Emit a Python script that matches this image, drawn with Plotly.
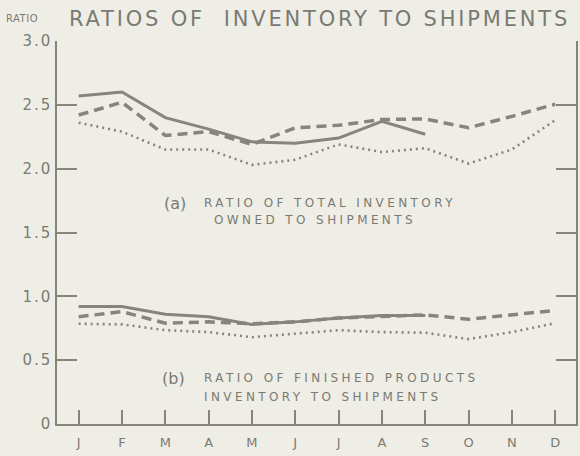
import plotly.graph_objects as go

months = ["J", "F", "M", "A", "M", "J", "J", "A", "S", "O", "N", "D"]
month_idx = list(range(len(months)))

# (a) Ratio of total inventory owned to shipments
a_solid = [2.57, 2.60, 2.40, 2.31, 2.21, 2.20, 2.24, 2.37, 2.27]
a_dashed = [2.42, 2.52, 2.26, 2.29, 2.19, 2.32, 2.34, 2.385, 2.39, 2.32, 2.41, 2.505]
a_dotted = [2.36, 2.29, 2.15, 2.15, 2.03, 2.07, 2.19, 2.13, 2.16, 2.04, 2.15, 2.38]

# (b) Ratio of finished products inventory to shipments
b_solid = [0.92, 0.92, 0.86, 0.84, 0.78, 0.80, 0.83, 0.85, 0.85]
b_dashed = [0.84, 0.88, 0.79, 0.80, 0.785, 0.80, 0.83, 0.845, 0.855, 0.82, 0.855, 0.89]
b_dotted = [0.785, 0.78, 0.735, 0.72, 0.68, 0.71, 0.735, 0.72, 0.715, 0.665, 0.72, 0.79]

y_tickvals = [0, 0.5, 1.0, 1.5, 2.0, 2.5, 3.0]
y_ticktext = ["0", "0.5", "1.0", "1.5", "2.0", "2.5", "3.0"]

BG = "#efeee6"
INK = "#85857d"
TXT = "#7a7a72"
FONT = "DejaVu Sans"

fig = go.Figure()

styles = [
    ("solid", 3.0),
    ("10px,6px", 3.5),
    ("2px,4px", 2.6),
]

for series, (dash, w) in zip([a_solid, a_dashed, a_dotted], styles):
    fig.add_trace(go.Scatter(x=month_idx[:len(series)], y=series, mode="lines",
                             line=dict(color=INK, width=w, dash=dash), showlegend=False))
for series, (dash, w) in zip([b_solid, b_dashed, b_dotted], styles):
    fig.add_trace(go.Scatter(x=month_idx[:len(series)], y=series, mode="lines",
                             line=dict(color=INK, width=w, dash=dash), showlegend=False))

W, H = 580, 456
L, R, T, B = 57, 2, 41, 32
pw = W - L - R
ph = H - T - B

def px(x):
    return (x - L) / pw

def py(y):
    return (H - B - y) / ph

def sp(text, ls):
    return f'<span style="letter-spacing:{ls}px">{text}</span>'

annos = [
    dict(text=sp("RATIOS OF  INVENTORY TO SHIPMENTS", 2.8), x=px(321), y=py(19), size=21,
         xanchor="center"),
    dict(text=sp("RATIO", 0.5), x=px(21.5), y=py(18), size=10, xanchor="center"),
    dict(text="(a)", x=px(162), y=py(203), size=16, xanchor="left"),
    dict(text=sp("RATIO OF TOTAL INVENTORY", 3.4), x=px(203), y=py(203), size=12, xanchor="left"),
    dict(text=sp("OWNED TO SHIPMENTS", 3.4), x=px(213), y=py(220), size=12, xanchor="left"),
    dict(text="(b)", x=px(160), y=py(378), size=16, xanchor="left"),
    dict(text=sp("RATIO OF FINISHED PRODUCTS", 3.4), x=px(203), y=py(378), size=12, xanchor="left"),
    dict(text=sp("INVENTORY TO SHIPMENTS", 3.4), x=px(203), y=py(397), size=12, xanchor="left"),
]
for a in annos:
    fig.add_annotation(text=a["text"], x=a["x"], y=a["y"], xref="paper", yref="paper",
                       xanchor=a["xanchor"], yanchor="middle", showarrow=False,
                       font=dict(family=FONT, size=a["size"], color=TXT))

fig.update_layout(
    width=W, height=H,
    margin=dict(l=L, r=R, t=T, b=B),
    paper_bgcolor=BG, plot_bgcolor=BG,
    showlegend=False,
    xaxis=dict(range=[-0.5, 11.48], tickvals=month_idx, ticktext=months,
               ticks="inside", ticklen=14, tickwidth=2, tickcolor=INK,
               showline=True, linecolor=INK, linewidth=2, showgrid=False, zeroline=False,
               tickfont=dict(family=FONT, size=13, color=TXT), ticklabelstandoff=5),
    yaxis=dict(range=[0, 3], tickvals=y_tickvals,
               ticktext=[sp(t, 2) for t in y_ticktext],
               ticks="inside", ticklen=20, tickwidth=2, tickcolor=INK,
               showline=True, linecolor=INK, linewidth=1.5, mirror="ticks",
               showgrid=False, zeroline=False,
               tickfont=dict(family=FONT, size=15, color=TXT)),
)

fig.write_html("out.html", config={"displayModeBar": False}, post_script=(
    "document.body.style.margin='0';document.body.style.padding='0';"
    "document.body.style.background='" + BG + "';"
    "document.documentElement.style.background='" + BG + "';"))
